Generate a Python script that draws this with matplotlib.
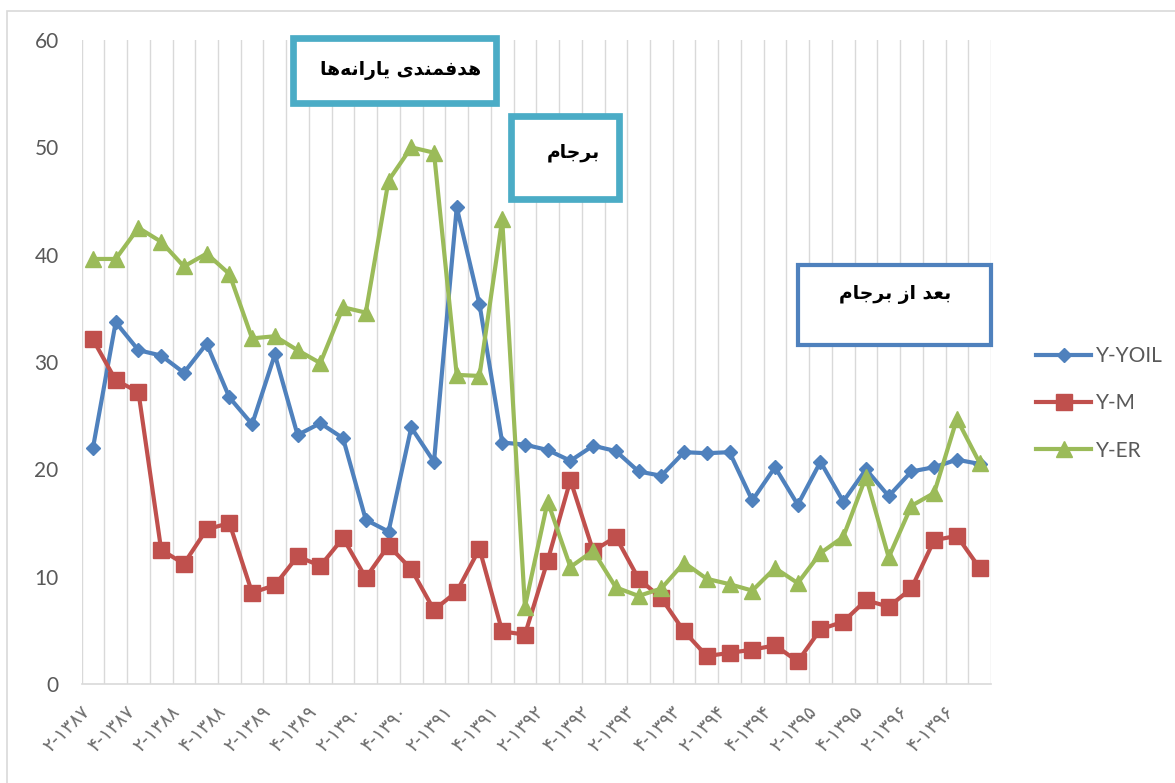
import matplotlib
matplotlib.use("Agg")
import matplotlib.pyplot as plt
from matplotlib.patches import Rectangle
from matplotlib.ticker import FixedLocator, NullFormatter

# ---------------- data ----------------
categories = [
    "۲-۱۳۸۷", "۳-۱۳۸۷", "۴-۱۳۸۷", "۱-۱۳۸۸", "۲-۱۳۸۸", "۳-۱۳۸۸", "۴-۱۳۸۸", "۱-۱۳۸۹",
    "۲-۱۳۸۹", "۳-۱۳۸۹", "۴-۱۳۸۹", "۱-۱۳۹۰", "۲-۱۳۹۰", "۳-۱۳۹۰", "۴-۱۳۹۰", "۱-۱۳۹۱",
    "۲-۱۳۹۱", "۳-۱۳۹۱", "۴-۱۳۹۱", "۱-۱۳۹۲", "۲-۱۳۹۲", "۳-۱۳۹۲", "۴-۱۳۹۲", "۱-۱۳۹۳",
    "۲-۱۳۹۳", "۳-۱۳۹۳", "۴-۱۳۹۳", "۱-۱۳۹۴", "۲-۱۳۹۴", "۳-۱۳۹۴", "۴-۱۳۹۴", "۱-۱۳۹۵",
    "۲-۱۳۹۵", "۳-۱۳۹۵", "۴-۱۳۹۵", "۱-۱۳۹۶", "۲-۱۳۹۶", "۳-۱۳۹۶", "۴-۱۳۹۶", "۱-۱۳۹۷",
]

y_yoil = [22.0, 33.7, 31.1, 30.6, 29.0, 31.7, 26.7, 24.2, 30.7, 23.2,
          24.3, 22.9, 15.3, 14.2, 23.9, 20.7, 44.4, 35.4, 22.5, 22.3,
          21.8, 20.8, 22.2, 21.7, 19.8, 19.4, 21.6, 21.5, 21.6, 17.1,
          20.2, 16.7, 20.7, 17.0, 20.0, 17.5, 19.8, 20.2, 20.9, 20.5]

y_m = [32.1, 28.3, 27.2, 12.5, 11.2, 14.4, 15.0, 8.5, 9.2, 11.9,
       11.0, 13.6, 9.9, 12.9, 10.7, 6.9, 8.6, 12.6, 4.9, 4.6,
       11.5, 19.0, 12.4, 13.7, 9.8, 8.0, 4.9, 2.6, 2.9, 3.2,
       3.6, 2.1, 5.1, 5.8, 7.8, 7.2, 8.9, 13.4, 13.8, 10.8]

y_er = [39.6, 39.6, 42.5, 41.2, 38.9, 40.1, 38.2, 32.2, 32.4, 31.1,
        29.9, 35.1, 34.6, 46.9, 50.0, 49.5, 28.8, 28.7, 43.3, 7.2,
        17.0, 10.9, 12.4, 9.0, 8.2, 8.9, 11.3, 9.8, 9.3, 8.7,
        10.8, 9.4, 12.2, 13.7, 19.3, 11.8, 16.6, 17.8, 24.7, 20.6]

series_names = ["Y-YOIL", "Y-M", "Y-ER"]
y_ticks = [0, 10, 20, 30, 40, 50, 60]

# annotation texts (Persian, written with Arabic presentation forms in visual order)
box_subsidy = "\uFE8E\uFEEB\uFEEA\uFEE7\uFE8D\uFEAD\uFE8E\uFBFE \uFBFC\uFEAA\uFEE8\uFEE4\uFED3\uFEAA\uFEEB"  # هدفمندی یارانه‌ها
box_barjam = "\uFEE1\uFE8E\uFE9F\uFEAE\uFE91"  # برجام
box_after = "\uFEE1\uFE8E\uFE9F\uFEAE\uFE91 \uFEAF\uFE8D \uFEAA\uFECC\uFE91"  # بعد از برجام

# ---------------- figure ----------------
W, H = 1175, 783
fig = plt.figure(figsize=(W / 100, H / 100), dpi=100)
fig.patch.set_facecolor("white")

def fx(px):
    return px / W

def fy(py):
    return 1 - py / H

ax = fig.add_axes([fx(81.6), fy(684), fx(991) - fx(81.6), fy(40) - fy(684)])

x = list(range(len(categories)))
blue, red, green = "#4F81BD", "#C0504D", "#9BBB59"

ax.plot(x, y_yoil, color=blue, lw=3, marker="D", ms=7.5, mec=blue, mfc=blue,
        label=series_names[0], zorder=3, solid_joinstyle="round")
ax.plot(x, y_m, color=red, lw=3, marker="s", ms=11, mec=red, mfc=red,
        label=series_names[1], zorder=3, solid_joinstyle="round")
ax.plot(x, y_er, color=green, lw=3, marker="^", ms=12, mec=green, mfc=green,
        label=series_names[2], zorder=3, solid_joinstyle="round")

ax.set_xlim(-0.5, len(categories) - 0.5)
ax.set_ylim(0, 60)

# vertical gridlines at category boundaries
ax.xaxis.set_minor_locator(FixedLocator([i - 0.5 for i in range(len(categories) + 1)]))
ax.xaxis.set_minor_formatter(NullFormatter())
ax.grid(which="minor", axis="x", color="#D9D9D9", lw=1.0, zorder=0)
ax.grid(which="major", visible=False)
for gl in ax.xaxis.get_minorticklines():
    gl.set_visible(False)

# x tick labels every 2 categories
ax.set_xticks(x[::2])
ax.set_xticklabels(categories[::2], rotation=45, ha="right", va="top",
                   fontsize=13.5, color="#6E6E6E", family=["DejaVu Sans"])
ax.tick_params(axis="x", which="both", length=0, pad=13)

ax.set_yticks(y_ticks)
ax.set_yticklabels([str(v) for v in y_ticks], fontsize=15, color="#595959", family=["Lato", "DejaVu Sans"])
ax.tick_params(axis="y", length=0, pad=16.5)

for s in ["top", "right", "left"]:
    ax.spines[s].set_visible(False)
ax.spines["bottom"].set_color("#D9D9D9")
ax.spines["bottom"].set_linewidth(1.2)

# legend
leg = ax.legend(loc="upper left", bbox_to_anchor=(fx(1036), fy(346)), bbox_transform=fig.transFigure,
                frameon=False, borderpad=0, borderaxespad=0, handlelength=2.65, handletextpad=0.25,
                labelspacing=1.31, prop={"family": ["Lato", "DejaVu Sans"], "size": 15})
for t in leg.get_texts():
    t.set_color("#595959")

# chart-area border
fig.add_artist(Rectangle((fx(6.5), -0.1), 1.2, fy(10.5) + 0.1, transform=fig.transFigure,
                         fill=False, edgecolor="#D9D9D9", lw=1.2))

# annotation boxes
def box(x0, y0, x1, y1, color, lw_px):
    fig.add_artist(Rectangle((fx(x0), fy(y1)), fx(x1) - fx(x0), fy(y0) - fy(y1),
                             transform=fig.transFigure, facecolor="white",
                             edgecolor=color, lw=lw_px * 0.72, zorder=5))

box(293.3, 38.3, 495.7, 102.7, "#4BACC6", 6.7)
box(511.3, 116.3, 618.7, 198.7, "#4BACC6", 6.7)
box(798, 265, 991, 345, "#4F81BD", 4.2)

tkw = dict(ha="center", va="center", fontsize=13.5, fontweight="bold", color="black",
           family=["DejaVu Sans"], zorder=6)
fig.text(fx(401), fy(70), box_subsidy, **tkw)
fig.text(fx(573), fy(152), box_barjam, **tkw)
fig.text(fx(895), fy(294), box_after, **tkw)

fig.savefig("out.png", dpi=100, facecolor="white")
